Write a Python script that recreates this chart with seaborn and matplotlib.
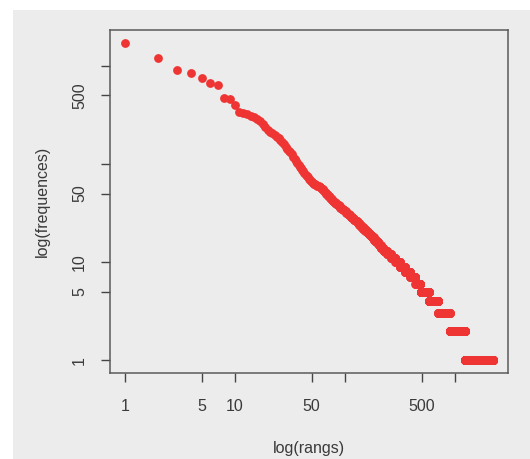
import numpy as np
import pandas as pd
import seaborn as sns
import matplotlib
matplotlib.use("Agg")
import matplotlib.pyplot as plt
from matplotlib.patches import Rectangle

# frequencies of the most frequent words (ranks 1..52)
top_freqs = [1720, 1200, 910, 850, 760, 670, 645, 475, 460, 400,
             342, 330, 320, 310, 300, 290, 275, 258, 240, 220,
             212, 205, 198, 190, 182, 175, 166, 158, 150, 143,
             137, 131, 125, 119, 113, 108, 103, 98, 94, 90,
             87, 84, 81, 78, 75, 73, 71, 69, 67, 65,
             64, 63]

# remaining words: frequency value -> number of words having it
spectrum_freqs = [62, 61, 60, 59, 58, 57, 56, 55, 54, 53,
                  52, 51, 50, 49, 48, 47, 46, 45, 44, 43,
                  42, 41, 40, 39, 38, 37, 36, 35, 34, 33,
                  32, 31, 30, 29, 28, 27, 26, 25, 24, 23,
                  22, 21, 20, 19, 18, 17, 16, 15, 14, 13,
                  12, 11, 10, 9, 8, 7, 6, 5, 4, 3,
                  2, 1]
spectrum_counts = [2, 1, 2, 1, 2, 1, 1, 1, 1, 1,
                   1, 1, 1, 1, 1, 2, 1, 1, 2, 1,
                   2, 2, 2, 2, 3, 2, 3, 3, 3, 3,
                   3, 4, 3, 4, 4, 5, 5, 5, 5, 6,
                   7, 7, 7, 8, 8, 9, 10, 10, 12, 18,
                   21, 25, 30, 35, 40, 45, 50, 95, 125, 190,
                   340, 1000]

tick_values = [1, 5, 10, 50, 100, 500, 1000]
tick_labels = ["1", "5", "10", "50", "", "500", ""]

freqs = np.concatenate([top_freqs, np.repeat(spectrum_freqs, spectrum_counts)])
df = pd.DataFrame({"rang": np.arange(1, len(freqs) + 1), "freq": freqs})

bg = "#ececec"
ink = "#3a3a3a"
plt.rcParams["font.family"] = ["Liberation Sans", "DejaVu Sans"]

fig = plt.figure(figsize=(5.30, 4.59), dpi=100)
fig.patch.set_facecolor("white")
fig.patches.append(Rectangle((12.5 / 530, 0), 1, (459 - 9.5) / 459,
                             transform=fig.transFigure, facecolor=bg,
                             edgecolor="none", zorder=-10))

ax = fig.add_axes([110 / 530, 86 / 459, 398 / 530, 343 / 459])
ax.set_facecolor(bg)
sns.scatterplot(data=df, x="rang", y="freq", ax=ax, s=40, color="#ef3434",
                linewidth=0, legend=False)
ax.set_xscale("log")
ax.set_yscale("log")

# R-style 4% padding in log space
def padded(vmin, vmax):
    lo, hi = np.log10(vmin), np.log10(vmax)
    m = 0.04 * (hi - lo)
    return 10 ** (lo - m), 10 ** (hi + m)

ax.set_xlim(*padded(df["rang"].min(), df["rang"].max()))
ax.set_ylim(*padded(df["freq"].min(), df["freq"].max()))

ax.xaxis.set_major_locator(matplotlib.ticker.FixedLocator(tick_values))
ax.yaxis.set_major_locator(matplotlib.ticker.FixedLocator(tick_values))
ax.xaxis.set_minor_locator(matplotlib.ticker.NullLocator())
ax.yaxis.set_minor_locator(matplotlib.ticker.NullLocator())
ax.set_xticklabels(tick_labels)
ax.set_yticklabels(tick_labels, rotation=90, va="center")
ax.tick_params(axis="both", length=6.5, width=1.0, color="#444444",
               labelsize=11.5, labelcolor=ink, pad=10)
ax.tick_params(axis="x", pad=12)

for sp in ax.spines.values():
    sp.set_color("#5a5a5a")
    sp.set_linewidth(1.1)

ax.set_xlabel("log(rangs)", fontsize=11.5, color=ink, labelpad=20)
ax.set_ylabel("log(frequences)", fontsize=11.5, color=ink, labelpad=16)

fig.savefig("out.png", dpi=100)
